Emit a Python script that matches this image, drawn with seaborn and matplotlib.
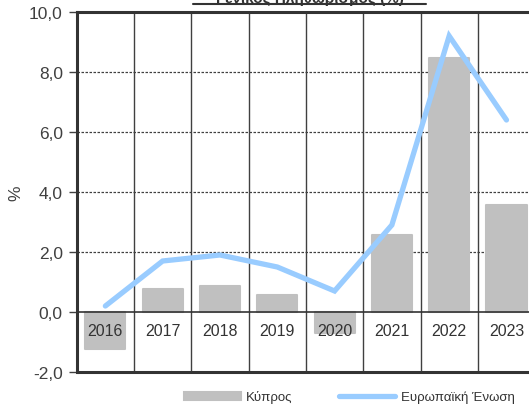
import numpy as np
import matplotlib.pyplot as plt
import seaborn as sns
from matplotlib.lines import Line2D

years = ["2016", "2017", "2018", "2019", "2020", "2021", "2022", "2023"]
cyprus = [-1.25, 0.75, 0.85, 0.55, -0.7, 2.55, 8.45, 3.55]
eu = [0.2, 1.7, 1.9, 1.5, 0.7, 2.9, 9.2, 6.4]
yticks = [-2, 0, 2, 4, 6, 8, 10]

sns.set_style("white")
plt.rcParams['font.family'] = ['Liberation Sans', 'DejaVu Sans']

fig = plt.figure(figsize=(5.29, 4.06), dpi=100)
ax = fig.add_axes([0.145, 0.0813, 0.8666, 0.8867])

sns.barplot(x=years, y=cyprus, color="#c0c0c0", width=0.7, saturation=1,
            edgecolor="#c0c0c0", linewidth=1.5, ax=ax, label="Κύπρος", zorder=2)
for p in ax.patches:
    p.set_joinstyle("round")
sns.lineplot(x=np.arange(len(years)), y=eu, color="#99ccff", linewidth=3.8,
             ax=ax, label="Ευρωπαϊκή Ένωση", zorder=3, solid_capstyle="round",
             solid_joinstyle="miter")

ax.set_xlim(-0.5, len(years) - 0.5)
ax.set_ylim(-2, 10)
ax.set_yticks(yticks)
ax.set_yticklabels([f"{v:.1f}".replace(".", ",") for v in yticks])

# dashed horizontal gridlines, solid category separators
for v in yticks[2:-1]:
    ax.axhline(v, color="#404040", lw=0.9, ls=(0, (2, 1.2)), zorder=1)
for k in range(len(years) - 1):
    ax.axvline(k + 0.5, color="#404040", lw=1.0, zorder=1)
ax.axhline(-2, color="#333333", lw=2.2, zorder=4, clip_on=False)

ax.spines['bottom'].set_position(('data', 0))
ax.spines['bottom'].set_color("#333333")
ax.spines['bottom'].set_linewidth(1.2)
ax.spines['left'].set_color("#333333")
ax.spines['left'].set_linewidth(2.2)
ax.spines['top'].set_color("#333333")
ax.spines['top'].set_linewidth(2.2)
ax.spines['right'].set_visible(False)
ax.xaxis.set_zorder(5)

ax.tick_params(axis='x', length=0, pad=8, labelsize=11.5, labelcolor="#333333")
ax.tick_params(axis='y', left=True, length=6, width=1, color="#404040",
               labelsize=12.5, labelcolor="#404040", pad=4)
ax.set_xlabel("")
ax.set_ylabel("%", fontsize=12.5, color="#404040", labelpad=4)

handles, labels = ax.get_legend_handles_labels()
order = [labels.index("Κύπρος"), labels.index("Ευρωπαϊκή Ένωση")]
ax.legend([handles[i] for i in order], [labels[i] for i in order],
          loc="center", bbox_to_anchor=(0.66, 0.02), bbox_transform=fig.transFigure,
          ncol=2, frameon=False, fontsize=9.5, handlelength=4.3, handleheight=0.6,
          columnspacing=3.5, handletextpad=0.4, labelcolor="#333333")

fig.text(0.585, 1 - 3 / 406, "Γενικός Πληθωρισμός (%)", ha="center", va="baseline",
         fontsize=11, fontweight="bold", color="#333333")
fig.add_artist(Line2D([193 / 529, 426 / 529], [1 - 4.5 / 406] * 2, color="#333333",
                      lw=1.5, transform=fig.transFigure))

plt.savefig("out.png", dpi=100)
